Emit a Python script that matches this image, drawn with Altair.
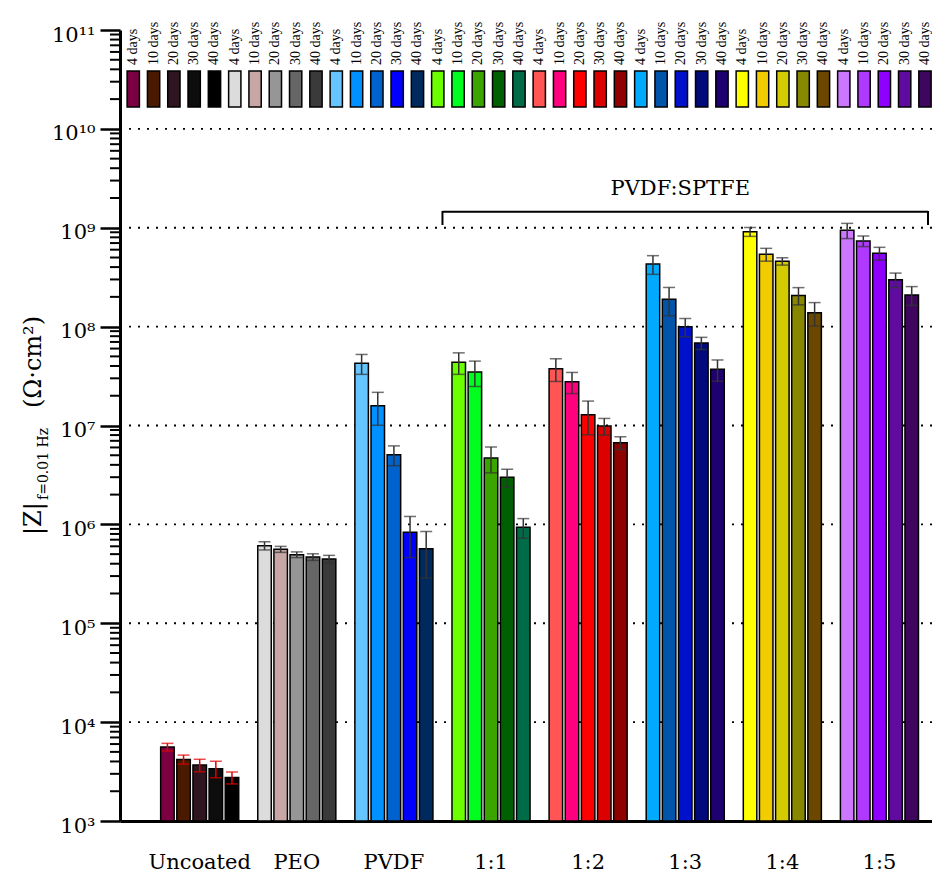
import altair as alt
import pandas as pd

groups = ["Uncoated", "PEO", "PVDF", "1:1", "1:2", "1:3", "1:4", "1:5"]
days = ["4 days", "10 days", "20 days", "30 days", "40 days"]

# |Z| at 0.01 Hz (mean) and error (±) per group, in order of days
z_uncoated = [5.6e3, 4.2e3, 3.68e3, 3.38e3, 2.75e3]
e_uncoated = [0.5e3, 0.44e3, 0.53e3, 0.64e3, 0.38e3]
z_peo = [6.09e5, 5.6e5, 4.94e5, 4.68e5, 4.47e5]
e_peo = [0.58e5, 0.39e5, 0.33e5, 0.36e5, 0.39e5]
z_pvdf = [4.26e7, 1.585e7, 5.07e6, 8.32e5, 5.67e5]
e_pvdf = [0.97e7, 0.58e7, 1.15e6, 3.7e5, 2.8e5]
z_11 = [4.36e7, 3.48e7, 4.69e6, 2.99e6, 9.34e5]
e_11 = [1.07e7, 1.0e7, 1.37e6, 0.62e6, 2.1e5]
z_12 = [3.76e7, 2.77e7, 1.286e7, 9.89e6, 6.70e6]
e_12 = [0.97e7, 0.67e7, 4.8e6, 1.9e6, 0.99e6]
z_13 = [4.30e8, 1.89e8, 9.98e7, 6.83e7, 3.70e7]
e_13 = [0.92e8, 0.6e8, 2.1e7, 0.96e7, 0.9e7]
z_14 = [9.12e8, 5.39e8, 4.58e8, 2.07e8, 1.38e8]
e_14 = [0.94e8, 0.8e8, 0.39e8, 0.41e8, 0.37e8]
z_15 = [9.42e8, 7.35e8, 5.52e8, 2.98e8, 2.09e8]
e_15 = [1.65e8, 0.9e8, 0.82e8, 0.5e8, 0.45e8]

c_uncoated = ["#7B0041", "#4A1A00", "#2E1520", "#0D0D0D", "#000000"]
c_peo = ["#DCDCDC", "#C8A6A6", "#969696", "#666666", "#3A3A3A"]
c_pvdf = ["#66C4FF", "#0090FF", "#0062CC", "#0000FF", "#002A5E"]
c_11 = ["#6CFF00", "#00FF21", "#3BA500", "#005F00", "#006B47"]
c_12 = ["#FF5555", "#FF007F", "#FF0000", "#DD0000", "#8F0000"]
c_13 = ["#00AAFF", "#0055AA", "#0011CC", "#000A7A", "#1E0070"]
c_14 = ["#FFFF00", "#F0CC00", "#D4CC00", "#878700", "#6B4700"]
c_15 = ["#CC77FF", "#B039FF", "#9000FF", "#600BA0", "#3F065E"]

y_ticks = [1e3, 1e4, 1e5, 1e6, 1e7, 1e8, 1e9, 1e10, 1e11]
y_tick_labels = ["10³", "10⁴", "10⁵", "10⁶", "10⁷", "10⁸", "10⁹", "10¹⁰", "10¹¹"]
grid_values = [1e4, 1e5, 1e6, 1e7, 1e8, 1e9, 1e10]
minor_values = [m * 10 ** k for k in range(3, 11) for m in range(2, 10)]
bracket_label = ["PVDF:SPTFE"]

zs = [z_uncoated, z_peo, z_pvdf, z_11, z_12, z_13, z_14, z_15]
es = [e_uncoated, e_peo, e_pvdf, e_11, e_12, e_13, e_14, e_15]
cs = [c_uncoated, c_peo, c_pvdf, c_11, c_12, c_13, c_14, c_15]

rows = []
for g, zl, el, cl in zip(groups, zs, es, cs):
    for d, z, e, c in zip(days, zl, el, cl):
        rows.append({"group": g, "day": d, "id": g + " " + d, "z": z,
                     "lo": z - e, "hi": z + e, "color": c})
df = pd.DataFrame(rows)
ids = list(df["id"])

SERIF = "DejaVu Serif"

label_map = "{" + ",".join(f"'{int(v)}':'{l}'" for v, l in zip(y_ticks, y_tick_labels)) + "}[datum.value]"

yscale = alt.Scale(type="log", domain=[1e3, 1e11], nice=False)
xscale = alt.Scale(domain=groups, paddingInner=0, paddingOuter=0.181, align=0.886)
xoscale = alt.Scale(domain=days, paddingInner=0.163, paddingOuter=0.59)

X = alt.X("group:N", sort=groups, scale=xscale,
          axis=alt.Axis(title=None, labelFont=SERIF, labelFontSize=21, labelColor="black",
                        labelAngle=0, ticks=False, tickSize=0, domainWidth=3, domainColor="black",
                        labelPadding=47, labelBaseline="alphabetic", grid=False))
XO = alt.XOffset("day:N", sort=days, scale=xoscale)

base = alt.Chart(df)

grid = alt.Chart(pd.DataFrame({"v": grid_values})).mark_rule(
    color="black", strokeWidth=1.8, strokeDash=[2, 7]
).encode(y=alt.Y("v:Q", scale=yscale))

bars = base.mark_bar(stroke="black", strokeWidth=1.5).encode(
    x=X, xOffset=XO,
    y=alt.Y("z:Q", scale=yscale,
            axis=alt.Axis(values=y_ticks, labelExpr=label_map, title=None, tickSize=20,
                          tickWidth=2.5, tickColor="black", domainWidth=3, domainColor="black",
                          labelFont=SERIF, labelFontSize=21, labelColor="black", labelPadding=5,
                          labelBaseline="alphabetic", labelOffset=11, grid=False)),
    y2=alt.Y2Datum(1000),
    color=alt.Color("color:N", scale=None, legend=None),
)

errcol = alt.condition(alt.datum.group == "Uncoated", alt.value("#E00000"), alt.value("#333333"))
err = base.mark_rule(strokeWidth=1.5).encode(
    x=X, xOffset=XO, y=alt.Y("lo:Q", scale=yscale), y2="hi:Q", color=errcol)
cap_hi = base.mark_tick(thickness=1.5, size=12).encode(
    x=X, xOffset=XO, y=alt.Y("hi:Q", scale=yscale), color=errcol)
cap_lo = base.mark_tick(thickness=1.5, size=12).encode(
    x=X, xOffset=XO, y=alt.Y("lo:Q", scale=yscale), color=errcol)

minor = alt.Chart(pd.DataFrame({"v": minor_values})).mark_rule(
    color="black", strokeWidth=2
).encode(y=alt.Y("v:Q", scale=yscale), x=alt.value(-10), x2=alt.value(0))

bdf = pd.DataFrame({"label": bracket_label})
bracket_h = alt.Chart(bdf).mark_rule(color="black", strokeWidth=2).encode(
    x=alt.XDatum("1:1", type="nominal", bandPosition=0, scale=xscale),
    x2=alt.X2Datum("1:5", bandPosition=1),
    y=alt.value(181.7))
bracket_l = alt.Chart(bdf).mark_rule(color="black", strokeWidth=2).encode(
    x=alt.XDatum("1:1", type="nominal", bandPosition=0, scale=xscale),
    y=alt.value(181), y2=alt.value(195))
bracket_r = alt.Chart(bdf).mark_rule(color="black", strokeWidth=2).encode(
    x=alt.XDatum("1:5", type="nominal", bandPosition=1, scale=xscale),
    y=alt.value(181), y2=alt.value(195))
bracket_t = alt.Chart(bdf).mark_text(font=SERIF, fontSize=21, color="black",
                                     baseline="alphabetic", dx=-5).encode(
    x=alt.XDatum("1:3", type="nominal", scale=xscale), y=alt.value(165), text="label:N")

tdf = pd.DataFrame({"a": ["|Z|"], "b": ["f=0.01 Hz"], "c": ["(Ω·cm²)"]})
t1 = alt.Chart(tdf).mark_text(font=SERIF, fontSize=24, angle=270, align="left",
                              baseline="alphabetic", color="black").encode(
    text="a:N", x=alt.value(-79), y=alt.value(505))
t2 = alt.Chart(tdf).mark_text(font=SERIF, fontSize=14, angle=270, align="left",
                              baseline="alphabetic", color="black").encode(
    text="b:N", x=alt.value(-72), y=alt.value(470))
t3 = alt.Chart(tdf).mark_text(font=SERIF, fontSize=24, angle=270, align="left",
                              baseline="alphabetic", color="black").encode(
    text="c:N", x=alt.value(-79), y=alt.value(378))

main = alt.layer(grid, bars, err, cap_hi, cap_lo, minor,
                 bracket_h, bracket_l, bracket_r, bracket_t, t1, t2, t3)

LX = alt.X("id:N", sort=ids, axis=None,
           scale=alt.Scale(domain=ids, paddingInner=0.394, paddingOuter=0.197, align=0.89))
leg_rect = base.mark_bar(stroke="black", strokeWidth=1.5).encode(
    x=LX, y=alt.value(41), y2=alt.value(77),
    color=alt.Color("color:N", scale=None, legend=None))
leg_text = base.mark_text(font="Liberation Serif", fontSize=14, angle=270, align="left",
                          baseline="middle", color="black").encode(
    x=LX, y=alt.value(35), text="day:N")
legend = alt.layer(leg_rect, leg_text)

chart = alt.layer(main, legend).resolve_scale(x="independent").properties(
    width=812, height=791,
    autosize=alt.AutoSizeParams(type="none"),
    padding={"left": 120, "top": 30, "right": 0, "bottom": 54},
    background="white",
).configure_view(stroke=None)

chart.save("out.html", embed_options={"renderer": "svg", "actions": False})
